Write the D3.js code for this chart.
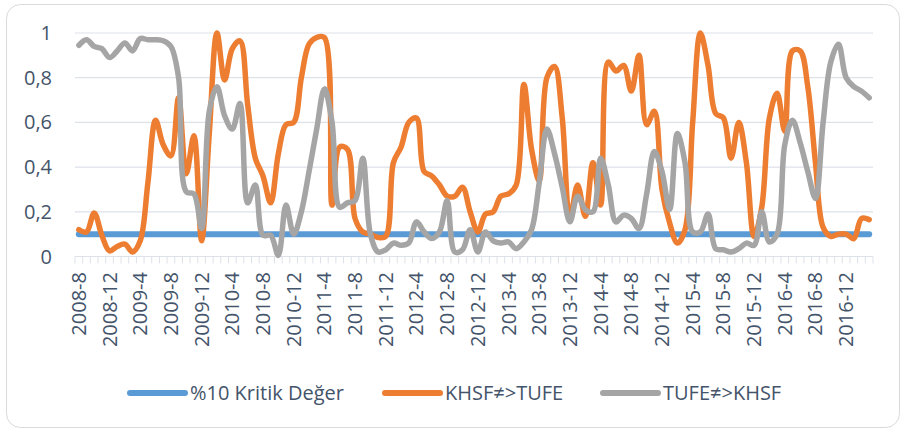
<!DOCTYPE html>
<html>
<head>
<meta charset="utf-8">
<title>Nedensellik</title>
<script src="https://cdn.jsdelivr.net/npm/d3@7"></script>
<style>
  body { margin: 0; background: #fff; }
  text { font-family: "Open Sans", "Noto Sans", sans-serif; fill: #44546a; }
</style>
</head>
<body>
<div id="chart"></div>
<script>
// aylar: 2008-8 ... 2017-3
let months = [];
for (let y = 2008, m = 8; months.length < 104; m++) {
    if (m > 12) { m = 1; y++; }
    months.push(y + "-" + m);
}

let kritikDeger = 0.1;

let khsfTufe = [
    0.12, 0.11, 0.195, 0.095, 0.025, 0.045, 0.055, 0.02, 0.07, 0.33,
    0.61, 0.50, 0.45, 0.71, 0.37, 0.54, 0.07, 0.55, 1.0, 0.79,
    0.93, 0.965, 0.68, 0.44, 0.36, 0.24, 0.46, 0.59, 0.60, 0.80,
    0.95, 0.98, 0.98, 0.23, 0.49, 0.48, 0.17, 0.11, 0.10, 0.085,
    0.09, 0.42, 0.49, 0.60, 0.62, 0.38, 0.36, 0.32, 0.27, 0.27,
    0.31, 0.20, 0.11, 0.19, 0.20, 0.27, 0.28, 0.32, 0.77, 0.48,
    0.34, 0.80, 0.85, 0.62, 0.17, 0.32, 0.18, 0.42, 0.23, 0.87,
    0.83, 0.855, 0.74, 0.90, 0.59, 0.65, 0.30, 0.15, 0.06, 0.12,
    0.60, 1.0, 0.855, 0.64, 0.62, 0.44, 0.60, 0.42, 0.09, 0.22,
    0.62, 0.73, 0.56, 0.92, 0.92, 0.76, 0.42, 0.13, 0.09, 0.10,
    0.10, 0.08, 0.17, 0.165
];

let tufeKhsf = [
    0.945, 0.97, 0.94, 0.93, 0.89, 0.92, 0.955, 0.92, 0.975, 0.97,
    0.97, 0.965, 0.94, 0.80, 0.29, 0.28, 0.125, 0.65, 0.76, 0.63,
    0.57, 0.685, 0.24, 0.32, 0.095, 0.095, 0.005, 0.23, 0.10, 0.20,
    0.38, 0.57, 0.75, 0.60, 0.22, 0.24, 0.25, 0.44, 0.10, 0.02,
    0.03, 0.06, 0.05, 0.06, 0.155, 0.11, 0.08, 0.11, 0.25, 0.02,
    0.03, 0.12, 0.02, 0.11, 0.07, 0.06, 0.065, 0.035, 0.065, 0.12,
    0.33, 0.57, 0.46, 0.31, 0.155, 0.27, 0.21, 0.20, 0.44, 0.32,
    0.155, 0.185, 0.17, 0.125, 0.28, 0.47, 0.38, 0.21, 0.55, 0.42,
    0.11, 0.11, 0.19, 0.035, 0.03, 0.02, 0.035, 0.06, 0.05, 0.20,
    0.065, 0.10, 0.50, 0.61, 0.51, 0.38, 0.26, 0.60, 0.87, 0.95,
    0.80, 0.76, 0.74, 0.71
];

let yTicks = [0, 0.2, 0.4, 0.6, 0.8, 1];
let seriesNames = ["%10 Kritik Değer", "KHSF≠>TUFE", "TUFE≠>KHSF"];
let colors = ["#5b9bd5", "#ed7d31", "#a5a5a5"];

let W = 903, H = 430;
let plotLeft = 75, plotRight = 873, plotTop = 33, plotBottom = 256.5;

let svg = d3.select("#chart").append("svg")
    .attr("width", W).attr("height", H);

svg.append("rect")
    .attr("x", 6.5).attr("y", 4.5)
    .attr("width", 893).attr("height", 423)
    .attr("rx", 14)
    .attr("fill", "#fff")
    .attr("stroke", "#d9d9d9");

let x = d3.scaleBand().domain(months).range([plotLeft, plotRight]);
let y = d3.scaleLinear().domain([0, 1]).range([plotBottom, plotTop]);
let cx = d => x(d) + x.bandwidth() / 2;

// yatay kılavuz çizgileri
svg.append("g").selectAll("line")
    .data(yTicks)
    .enter().append("line")
    .attr("x1", plotLeft).attr("x2", plotRight)
    .attr("y1", d => y(d)).attr("y2", d => y(d))
    .attr("stroke", "#dde1e8")
    .attr("stroke-width", 1.2);

// y etiketleri
svg.append("g").selectAll("text")
    .data(yTicks)
    .enter().append("text")
    .attr("x", 52)
    .attr("y", d => y(d))
    .attr("dy", "0.35em")
    .attr("text-anchor", "end")
    .style("font-size", "20px")
    .text(d => String(d).replace(".", ","));

// x ekseni küçük çentikler
let edges = months.map(m => x(m)).concat([plotRight]);
svg.append("g").selectAll("line")
    .data(edges)
    .enter().append("line")
    .attr("x1", d => d).attr("x2", d => d)
    .attr("y1", plotBottom).attr("y2", plotBottom + 7)
    .attr("stroke", "#dde1e8")
    .attr("stroke-width", 1);

// x etiketleri (4 ayda bir)
svg.append("g").selectAll("text")
    .data(months.filter((m, i) => i % 4 === 0 && i <= 100))
    .enter().append("text")
    .attr("transform", d => "translate(" + cx(d) + ",272) rotate(-90)")
    .attr("dy", "0.35em")
    .attr("text-anchor", "end")
    .style("font-size", "20px")
    .text(d => d);

let line = d3.line()
    .x((d, i) => cx(months[i]))
    .y(d => y(d))
    .curve(d3.curveCatmullRom.alpha(0.5));

let seriesData = [months.map(() => kritikDeger), khsfTufe, tufeKhsf];
let widths = [6, 5.5, 5.5];

svg.append("g").selectAll("path")
    .data(seriesData)
    .enter().append("path")
    .attr("d", d => line(d))
    .attr("fill", "none")
    .attr("stroke", (d, i) => colors[i])
    .attr("stroke-width", (d, i) => widths[i])
    .attr("stroke-linejoin", "round")
    .attr("stroke-linecap", "round");

// lejant
let legendX = [130, 385, 603];
let leg = svg.append("g").selectAll("g")
    .data(seriesNames)
    .enter().append("g")
    .attr("transform", (d, i) => "translate(" + legendX[i] + ",393)");

leg.append("line")
    .attr("x1", 0).attr("x2", 55)
    .attr("stroke", (d, i) => colors[i])
    .attr("stroke-width", 6)
    .attr("stroke-linecap", "round");

leg.append("text")
    .attr("x", 60)
    .attr("dy", "0.35em")
    .style("font-size", "20px")
    .text(d => d);
</script>
</body>
</html>
